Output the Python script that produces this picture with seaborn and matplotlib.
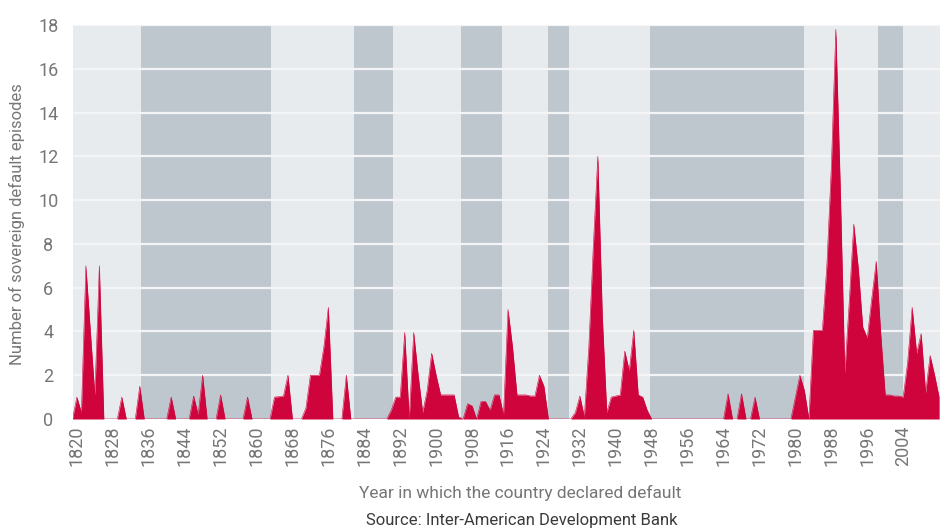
import pandas as pd
import seaborn as sns
from matplotlib import pyplot as plt

# yearly count of sovereign default episodes, one value per year from 1819
first_year = 1819
episodes = [
    0,                                                      # 1819
    1.0, 0.3, 7.0, 4.0, 1.1, 7.0, 0, 0, 0, 0,               # 1820s
    1.0, 0, 0, 0, 1.5, 0, 0, 0, 0, 0,                       # 1830s
    0, 1.0, 0, 0, 0, 0, 1.05, 0.2, 2.0, 0,                  # 1840s
    0, 0, 1.1, 0, 0, 0, 0, 0, 1.0, 0,                       # 1850s
    0, 0, 0, 0, 1.0, 1.02, 1.05, 2.0, 0, 0,                 # 1860s
    0, 0.5, 2.0, 2.0, 2.0, 3.3, 5.1, 0, 0, 0,               # 1870s
    2.0, 0, 0, 0, 0, 0, 0, 0, 0, 0,                         # 1880s
    0.4, 1.0, 1.0, 3.95, 0, 3.95, 2.0, 0.3, 1.3, 3.0,       # 1890s
    2.0, 1.1, 1.1, 1.1, 1.1, 0.1, 0, 0.7, 0.6, 0,           # 1900s
    0.8, 0.8, 0.4, 1.1, 1.1, 0.2, 5.0, 3.3, 1.1, 1.1,       # 1910s
    1.1, 1.05, 1.05, 2.0, 1.5, 0, 0, 0, 0, 0,               # 1920s
    0, 0.3, 1.05, 0.1, 3.3, 7.9, 12.0, 4.7, 0.3, 1.0,       # 1930s
    1.05, 1.1, 3.1, 2.2, 4.05, 1.1, 1.0, 0.4, 0, 0,         # 1940s
    0, 0, 0, 0, 0, 0, 0, 0, 0, 0,                           # 1950s
    0, 0, 0, 0, 0, 1.15, 0, 0, 1.15, 0,                     # 1960s
    0, 1.0, 0, 0, 0, 0, 0, 0, 0, 0,                         # 1970s
    1.0, 2.0, 1.3, 0, 4.05, 4.05, 4.05, 7.0, 11.5, 17.8,    # 1980s
    10.5, 2.1, 5.4, 8.9, 6.9, 4.2, 3.7, 5.5, 7.2, 3.9,      # 1990s
    1.1, 1.1, 1.05, 1.05, 1.0, 2.6, 5.1, 3.0, 3.9, 1.2,     # 2000s
    2.9, 2.0, 1.0,                                          # 2010s
]
years = list(range(first_year, first_year + len(episodes)))

# darker background bands (start year, end year)
shaded_periods = [
    (1834.3, 1863.2),
    (1881.7, 1890.4),
    (1905.5, 1914.7),
    (1924.9, 1929.6),
    (1947.6, 1982.0),
    (1998.4, 2004.0),
]

x_ticks = list(range(1820, 2005, 8))
y_ticks = list(range(0, 19, 2))

RED = "#cf043d"
LIGHT_BG = "#e8ebee"
DARK_BG = "#bfc7ce"
GRID = "#f2f4f5"
TEXT = "#767676"


def main():
    sns.set_theme(style="white")
    plt.rcParams["font.family"] = ["Roboto", "DejaVu Sans"]

    df = pd.DataFrame({"year": years, "episodes": episodes})

    fig = plt.figure(figsize=(9.4, 5.28), dpi=100)
    ax = fig.add_axes([73.3 / 940, 109 / 528, (940 - 73.3) / 940, 394 / 528])
    ax.set_facecolor(LIGHT_BG)

    for start, end in shaded_periods:
        ax.axvspan(start, end, color=DARK_BG, lw=0, zorder=0)
    for y in y_ticks[1:]:
        ax.axhline(y, color=GRID, lw=1.6, zorder=1)

    ax.fill_between(df["year"], df["episodes"], color=RED, lw=0, zorder=2)
    sns.lineplot(data=df, x="year", y="episodes", color=RED, lw=0.4, ax=ax, zorder=3)

    ax.set_xlim(1819.2, 2012.2)
    ax.set_ylim(0, 18)
    ax.set_xticks(x_ticks)
    ax.set_yticks(y_ticks)
    ax.set_xticklabels([str(t) for t in x_ticks], rotation=90)
    ax.tick_params(axis="x", length=0, pad=5, labelsize=13, labelcolor=TEXT)
    ax.tick_params(axis="y", length=0, pad=18, labelsize=13, labelcolor=TEXT)
    for label in ax.get_yticklabels():
        label.set_horizontalalignment("center")
    ax.set_xlabel("")
    ax.set_ylabel("")
    ax.grid(False)
    sns.despine(ax=ax, left=True, bottom=True)

    fig.text(17 / 940, 1 - 224 / 528, "Number of sovereign default episodes",
             rotation=90, ha="center", va="center", fontsize=12, color=TEXT)
    fig.text(520 / 940, 1 - 493 / 528, "Year in which the country declared default",
             ha="center", va="center", fontsize=12.5, color=TEXT)
    fig.text(522 / 940, 1 - 520 / 528, "Source: Inter-American Development Bank",
             ha="center", va="center", fontsize=12, color="#3a3a3a")

    fig.savefig("out.png", dpi=100)
    plt.close(fig)


if __name__ == "__main__":
    main()
